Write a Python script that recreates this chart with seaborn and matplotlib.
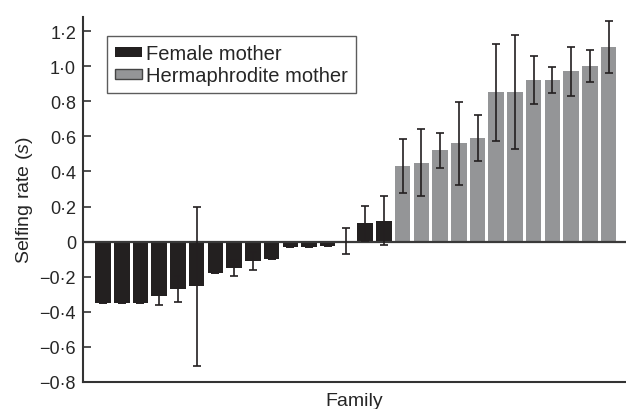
import numpy as np
import pandas as pd
import matplotlib
matplotlib.use("Agg")
import matplotlib.pyplot as plt
import seaborn as sns

# Selfing rate per family, sorted; first 16 families from female mothers, last 12 from hermaphrodite mothers
female_s = [-0.35, -0.35, -0.35, -0.31, -0.27, -0.255, -0.18, -0.15,
            -0.11, -0.10, -0.03, -0.03, -0.025, 0.005, 0.105, 0.12]
female_err = [0.0, 0.0, 0.0, 0.05, 0.075, 0.455, 0.0, 0.045,
              0.05, 0.0, 0.0, 0.0, 0.0, 0.075, 0.10, 0.14]
herm_s = [0.43, 0.45, 0.52, 0.56, 0.59, 0.85, 0.85, 0.92, 0.92, 0.97, 1.00, 1.11]
herm_err = [0.155, 0.19, 0.10, 0.235, 0.13, 0.275, 0.325, 0.135, 0.075, 0.14, 0.09, 0.15]
groups = ['Female mother', 'Hermaphrodite mother']
y_ticks = [-0.8, -0.6, -0.4, -0.2, 0, 0.2, 0.4, 0.6, 0.8, 1.0, 1.2]

s_vals = female_s + herm_s
s_err = female_err + herm_err
mother = [groups[0]] * len(female_s) + [groups[1]] * len(herm_s)
df = pd.DataFrame({'family': np.arange(1, len(s_vals) + 1), 's': s_vals, 'err': s_err, 'mother': mother})

sns.set_style('white')
plt.rcParams['font.family'] = ['Liberation Sans', 'DejaVu Sans']
plt.rcParams['mathtext.fontset'] = 'custom'
plt.rcParams['mathtext.it'] = 'Liberation Sans:italic'
plt.rcParams['mathtext.rm'] = 'Liberation Sans'

fig = plt.figure(figsize=(6.26, 4.10), dpi=100)
ax = fig.add_axes([83 / 626, 27 / 410, 543 / 626, 365 / 410])

sns.barplot(data=df, x='family', y='s', hue='mother', dodge=False, width=0.83,
            palette={groups[0]: '#231f20', groups[1]: '#939598'},
            errorbar=None, linewidth=0, ax=ax)

# error bars (SE) drawn on top of the bars
ax.errorbar(np.arange(len(df)), df['s'], yerr=df['err'], fmt='none',
            ecolor='#231f20', elinewidth=1.2, capsize=2.6, capthick=1.2, zorder=5)

ax.axhline(0, color='#3a3a3a', lw=1.6, zorder=4)

ax.set_xlim(-1.07, len(df) - 0.07)
ax.set_ylim(-0.8, 1.28)
ax.set_xticks([])
ax.set_yticks(y_ticks)
ax.set_yticklabels(['0' if v == 0 else f'{v:.1f}'.replace('.', '·').replace('-', '−') for v in y_ticks])
ax.tick_params(axis='y', direction='in', length=6, width=1.2, color='#333333',
               labelsize=13, pad=5, left=True)

ax.set_xlabel('Family', fontsize=14, labelpad=7)
ax.set_ylabel('Selfing rate ($s$)', fontsize=14, labelpad=3)

sns.despine(ax=ax)
for side in ['left', 'bottom']:
    ax.spines[side].set_color('#333333')
    ax.spines[side].set_linewidth(1.5)

handles, labels = ax.get_legend_handles_labels()
handles[1].set_edgecolor('#444444')
handles[1].set_linewidth(1.0)
leg = ax.legend(handles, labels, loc='upper left', bbox_to_anchor=(0.044, 0.948),
                frameon=True, fancybox=False, fontsize=14.5, handlelength=1.35,
                handleheight=0.4, handletextpad=0.2, borderpad=0.4,
                labelspacing=0.15, borderaxespad=0)
leg.get_frame().set_edgecolor('#333333')
leg.get_frame().set_linewidth(1.0)

fig.savefig('out.png', dpi=100)
